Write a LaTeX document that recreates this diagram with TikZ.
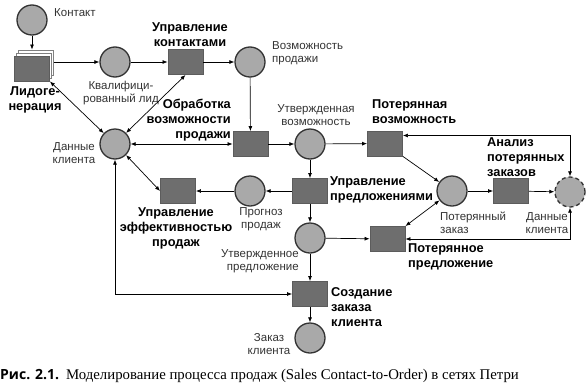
\documentclass[tikz,border=0pt]{standalone}
\usepackage{fontspec}
\setmainfont{Liberation Serif}
\setsansfont{Liberation Sans}
\newfontfamily\capsans{Open Sans}
\usetikzlibrary{arrows.meta, positioning, shadows}
\definecolor{mesto}{HTML}{A9A9A9}
\definecolor{perehod}{HTML}{6E6E6E}
\definecolor{kontur}{HTML}{333333}

\begin{document}
\begin{tikzpicture}[x=1pt, y=-1pt,
    pl/.style={circle, draw=kontur, line width=1.3pt, fill=mesto, minimum size=30pt, inner sep=0pt},
    tr/.style={draw=kontur!80, line width=0.9pt, fill=perehod, minimum width=35pt, minimum height=25pt, inner sep=0pt},
    t/.style={font=\sffamily\fontsize{11.5}{13.5}\selectfont, text=black!80, inner sep=0pt},
    bt/.style={font=\sffamily\bfseries\fontsize{12.8}{15}\selectfont, inner sep=0pt},
    a/.style={-{Latex[length=5pt, width=4pt]}, line width=0.7pt},
    aa/.style={{Latex[length=5pt, width=4pt]}-{Latex[length=5pt, width=4pt]}, line width=0.7pt}]
    \useasboundingbox (0,0) rectangle (586,391);
    % places
    \node[pl] (kont) at (32,20) {};
    \node[pl] (kval) at (115,62) {};
    \node[pl] (vozm) at (250,62) {};
    \node[pl] (dan) at (115,144) {};
    \node[pl] (utvv) at (310,144) {};
    \node[pl] (prog) at (250,191) {};
    \node[pl] (potz) at (452,191) {};
    \node[pl, dashed, dash pattern=on 4pt off 3pt] (danz) at (570,192) {};
    \node[pl] (utvp) at (310,238) {};
    \node[pl] (zak) at (310,338) {};
    % transitions
    \node[tr, double copy shadow={shadow xshift=2pt, shadow yshift=3pt, fill=white, draw=gray}] (lid) at (32,68.5) {};
    \node[tr] (upk) at (185.5,62) {};
    \node[tr] (obr) at (250.5,144) {};
    \node[tr] (potv) at (385,143.5) {};
    \node[tr] (upr) at (310,191) {};
    \node[tr] (eff) at (178,191) {};
    \node[tr] (anal) at (511,191) {};
    \node[tr] (potp) at (387.5,239) {};
    \node[tr] (sozd) at (310,294) {};
    % labels
    \node[t, anchor=west] (kontL) at (54,13) {Контакт};
    \node[bt, align=center] (lidL) at (35,100) {Лидоге-\\нерация};
    \node[t, align=center] (kvalL) at (121,93) {Квалифици-\\рованный лид};
    \node[bt, align=center] (upkL) at (190,35) {Управление\\контактами};
    \node[t, align=left, anchor=west] (vozmL) at (272,53) {Возможность\\продажи};
    \node[t, align=center] (danL) at (74,153) {Данные\\клиента};
    \node[bt, align=right, anchor=east] (obrL) at (231,120) {Обработка\\возможности\\продажи};
    \node[t, align=center] (utvvL) at (316,115) {Утвержденная\\возможность};
    \node[bt, align=left, anchor=west] (potvL) at (372,111.5) {Потерянная\\возможность};
    \node[bt, align=left, anchor=west] (anaL) at (487,157) {Анализ\\потерянных\\заказов};
    \node[bt, align=left, anchor=west] (uprL) at (330,190) {Управление\\предложениями};
    \node[t, align=center] (progL) at (261,219) {Прогноз\\продаж};
    \node[bt, align=center] (effL) at (176,228) {Управление\\эффективностью\\продаж};
    \node[t, align=left, anchor=west] (potzL) at (440,223) {Потерянный\\заказ};
    \node[t, align=center] (danzL) at (547,223) {Данные\\клиента};
    \node[bt, align=left, anchor=west] (potpL) at (408,256.5) {Потерянное\\предложение};
    \node[t, align=right, anchor=east] (utvpL) at (299,261) {Утвержденное\\предложение};
    \node[bt, align=left, anchor=west] (sozdL) at (331,307) {Создание\\заказа\\клиента};
    \node[t, align=center] (zakL) at (269,344) {Заказ\\клиента};
    % arcs
    \draw[a] (kont) -- ([yshift=6pt]lid.north);
    \draw[a] ([xshift=4pt]lid.east |- kval.west) -- (kval);
    \draw[a] (kval) -- (upk);
    \draw[a] (upk) -- (vozm);
    \draw[a] (vozm) -- (obr);
    \draw[aa] (lid.south east) -- (dan);
    \draw[aa] (dan.45) -- (upk.south);
    \draw[aa] (dan) -- (obr);
    \draw[a] (obr) -- (utvv);
    \draw[a] (utvv) -- (potv);
    \draw[a] (utvv) -- (upr);
    \draw[a] (upr) -- (prog);
    \draw[a] (prog) -- (eff);
    \draw[aa] (dan.-45) -- (eff.west);
    \draw[a] (upr) -- (utvp);
    \draw[a] (utvp) -- (potp);
    \draw[a] (utvp) -- (sozd);
    \draw[a] (sozd) -- (zak);
    \draw[aa] (dan.south) |- (sozd.west);
    \draw[a] (potv.south east) -- (potz);
    \draw[aa] (potp.north east) -- (potz);
    \draw[a] (potz) -- (anal);
    \draw[a] (anal) -- (danz);
    \draw[aa] ([yshift=8pt]potv.east) -| (danz.north);
    \draw[aa] (potp.east) -| (danz.south);
    % caption
    \node[anchor=west, inner sep=0pt] (cap) at (0,376) {{\capsans\bfseries\fontsize{14}{16}\selectfont Рис. 2.1.}\hspace{7pt}\fontsize{14.8}{17}\selectfont Моделирование процесса продаж (Sales Contact-to-Order) в сетях Петри};
\end{tikzpicture}
\end{document}
